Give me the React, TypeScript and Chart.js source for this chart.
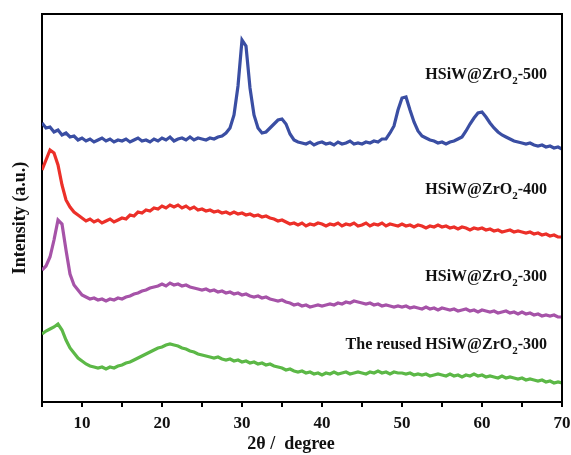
import React, { useEffect, useRef } from "react";
import { Chart, registerables } from "chart.js";

Chart.register(...registerables);

const angles = [
  5, 5.5, 6, 6.5, 7, 7.5, 8, 8.5, 9, 9.5,
  10, 10.5, 11, 11.5, 12, 12.5, 13, 13.5, 14, 14.5,
  15, 15.5, 16, 16.5, 17, 17.5, 18, 18.5, 19, 19.5,
  20, 20.5, 21, 21.5, 22, 22.5, 23, 23.5, 24, 24.5,
  25, 25.5, 26, 26.5, 27, 27.5, 28, 28.5, 29, 29.5,
  30, 30.5, 31, 31.5, 32, 32.5, 33, 33.5, 34, 34.5,
  35, 35.5, 36, 36.5, 37, 37.5, 38, 38.5, 39, 39.5,
  40, 40.5, 41, 41.5, 42, 42.5, 43, 43.5, 44, 44.5,
  45, 45.5, 46, 46.5, 47, 47.5, 48, 48.5, 49, 49.5,
  50, 50.5, 51, 51.5, 52, 52.5, 53, 53.5, 54, 54.5,
  55, 55.5, 56, 56.5, 57, 57.5, 58, 58.5, 59, 59.5,
  60, 60.5, 61, 61.5, 62, 62.5, 63, 63.5, 64, 64.5,
  65, 65.5, 66, 66.5, 67, 67.5, 68, 68.5, 69, 69.5,
  70,
];

const zr500 = [
  279, 274, 275, 270, 272, 267, 269, 265, 266, 262,
  264, 261, 263, 260, 262, 264, 261, 263, 260, 262,
  261, 263, 260, 262, 264, 261, 262, 260, 263, 261,
  264, 262, 265, 261, 263, 264, 262, 265, 262, 264,
  263, 262, 264, 263, 265, 266, 269, 274, 287, 316,
  362, 356, 314, 287, 274, 269, 270, 274, 278, 282,
  283, 278, 268, 262, 260, 259, 258, 260, 257, 259,
  260, 258, 259, 257, 260, 258, 259, 261, 258, 259,
  258, 260, 259, 261, 260, 263, 263, 269, 276, 292,
  304, 305, 292, 280, 271, 266, 264, 262, 261, 259,
  260, 258, 260, 261, 263, 265, 271, 278, 284, 289,
  290, 285, 279, 274, 270, 267, 265, 263, 261, 260,
  259, 258, 259, 257, 256, 257, 255, 256, 254, 255,
  253,
];

const zr400 = [
  232, 242, 252, 249, 237, 217, 202, 195, 190, 187,
  184, 181, 183, 180, 182, 179, 181, 183, 180, 182,
  184, 183, 187, 186, 190, 189, 192, 191, 194, 193,
  196, 194, 197, 195, 197, 194, 196, 193, 195, 192,
  193, 191, 192, 190, 191, 189, 190, 188, 190, 188,
  189, 187, 188, 186, 187, 185, 186, 184, 183, 181,
  182, 180, 178, 179, 177, 179, 176, 178, 177, 179,
  178, 176, 178, 177, 179, 176, 178, 177, 179, 176,
  177, 179, 176, 178, 177, 179, 176, 178, 177, 176,
  178, 176, 177, 175, 177, 176, 174, 176, 175, 177,
  175, 176, 174, 175, 173, 175, 174, 172, 174, 173,
  174, 172, 173, 171, 172, 170, 171, 172, 170, 171,
  170, 169, 170, 168, 169, 167, 168, 166, 167, 165,
  165,
];

const zr300 = [
  132, 136, 145, 162, 182, 178, 152, 128, 117, 112,
  107, 105, 103, 104, 102, 103, 101, 103, 102, 104,
  103, 105, 106, 108, 109, 111, 112, 114, 115, 116,
  118, 116, 119, 117, 118, 116, 117, 115, 114, 113,
  112, 113, 111, 112, 110, 111, 109, 110, 108, 109,
  107, 108, 106, 105, 106, 104, 105, 103, 102, 101,
  102, 100, 99, 97, 98, 96, 97, 95, 96, 97,
  96, 97, 98, 97, 99, 98, 100, 99, 101, 100,
  99, 98, 99, 97, 98, 96, 97, 96, 95, 96,
  95, 96, 94, 95, 94, 93, 95, 93, 94, 92,
  94, 93, 92, 93, 91, 92, 93, 91, 92, 90,
  92, 91, 90, 91, 89, 90, 91, 89, 90, 88,
  90, 88, 89, 87, 88, 86, 87, 86, 87, 85,
  85,
];

const reused300 = [
  68, 71, 73, 75, 78, 72, 62, 54, 49, 44,
  41, 38, 36, 35, 34, 35, 33, 35, 34, 36,
  37, 39, 40, 42, 44, 46, 48, 50, 52, 54,
  55, 57, 58, 57, 56, 54, 53, 51, 50, 48,
  47, 46, 45, 44, 45, 43, 42, 43, 41, 42,
  40, 41, 39, 40, 38, 39, 37, 38, 36, 35,
  34, 32, 33, 31, 30, 31, 29, 30, 28, 29,
  27, 29, 28, 30, 28, 29, 30, 28, 29, 30,
  29, 28, 30, 29, 31, 29, 30, 28, 30, 29,
  29, 28, 29, 27, 28, 27, 28, 26, 27, 28,
  27, 26, 28, 26, 27, 25, 27, 26, 28, 26,
  27, 25, 26, 25, 24, 26, 24, 25, 24, 23,
  24, 22, 23, 22, 21, 22, 20, 21, 19, 20,
  19,
];

const xTicks = [10, 20, 30, 40, 50, 60, 70];
const seriesNames = [
  ["HSiW@ZrO", "2", "-500"],
  ["HSiW@ZrO", "2", "-400"],
  ["HSiW@ZrO", "2", "-300"],
  ["The reused HSiW@ZrO", "2", "-300"],
];
const colors = ["#3a4ea3", "#ec3029", "#a653a8", "#5cb847"];

const FONT = '"Liberation Serif", "Times New Roman", serif';

const labelPlugin = {
  id: "labels",
  afterDraw(chart: any) {
    const ctx = chart.ctx;
    const ca = chart.chartArea;
    ctx.save();
    ctx.strokeStyle = "#000";
    ctx.lineWidth = 2;
    ctx.beginPath();
    ctx.moveTo(ca.left - 1, ca.top);
    ctx.lineTo(ca.right, ca.top);
    ctx.lineTo(ca.right, ca.bottom);
    ctx.stroke();

    const labelY = [61, 176, 263, 331];
    const rightX = ca.right - 15;
    ctx.fillStyle = "#111";
    ctx.textBaseline = "middle";
    seriesNames.forEach((parts, i) => {
      const big = `bold 16px ${FONT}`;
      const small = `bold 11px ${FONT}`;
      ctx.font = big;
      const w0 = ctx.measureText(parts[0]).width;
      const w2 = ctx.measureText(parts[2]).width;
      ctx.font = small;
      const w1 = ctx.measureText(parts[1]).width;
      let x = rightX - (w0 + w1 + w2);
      const y = ca.top + labelY[i];
      ctx.textAlign = "left";
      ctx.font = big;
      ctx.fillText(parts[0], x, y);
      x += w0;
      ctx.font = small;
      ctx.fillText(parts[1], x, y + 6);
      x += w1;
      ctx.font = big;
      ctx.fillText(parts[2], x, y);
    });

    ctx.fillStyle = "#111";
    ctx.font = `bold 18px ${FONT}`;
    ctx.textAlign = "center";
    ctx.textBaseline = "middle";
    ctx.fillText("2θ /  degree", 291, 444);
    ctx.translate(20, 218);
    ctx.rotate(-Math.PI / 2);
    ctx.fillText("Intensity (a.u.)", 0, 0);
    ctx.restore();
  },
};

export default function App() {
  const ref = useRef<HTMLCanvasElement>(null);
  useEffect(() => {
    if (!ref.current) return;
    const sets = [zr500, zr400, zr300, reused300];
    const chart = new Chart(ref.current, {
      type: "line",
      data: {
        datasets: sets.map((vals, i) => ({
          label: seriesNames[i].join(""),
          data: angles.map((a, j) => ({ x: a, y: vals[j] })),
          borderColor: colors[i],
          borderWidth: 3.2,
          pointRadius: 0,
          tension: 0,
          fill: false,
        })),
      },
      options: {
        animation: false,
        responsive: true,
        maintainAspectRatio: false,
        layout: { padding: { top: 14, right: 9, left: 0, bottom: 0 } },
        plugins: { legend: { display: false }, tooltip: { enabled: false } },
        scales: {
          x: {
            type: "linear",
            min: 5,
            max: 70,
            afterBuildTicks: (s: any) => {
              const t: any[] = [];
              for (const v of xTicks) {
                t.push({ value: v - 5 });
                t.push({ value: v });
              }
              s.ticks = t;
            },
            afterFit: (s: any) => {
              s.height = 53;
              s.paddingRight = 0;
              s.paddingLeft = 0;
            },
            ticks: {
              callback: (v: any) => (xTicks.includes(Number(v)) ? String(v) : ""),
              color: "#111",
              font: { family: FONT, size: 17, weight: "bold" },
              padding: 6,
              maxRotation: 0,
              autoSkip: false,
            },
            grid: {
              drawOnChartArea: false,
              drawTicks: true,
              tickLength: 5,
              color: "#000",
              lineWidth: 2,
            },
            border: { color: "#000", width: 2 },
          },
          y: {
            min: 0,
            max: 388,
            afterFit: (s: any) => {
              s.width = 42;
              s.paddingTop = 0;
              s.paddingBottom = 0;
            },
            ticks: { display: false },
            grid: { drawOnChartArea: false, drawTicks: false },
            border: { color: "#000", width: 2 },
          },
        },
      },
      plugins: [labelPlugin],
    });
    return () => chart.destroy();
  }, []);
  return (
    <div style={{ position: "absolute", left: 0, top: 0, width: 571, height: 455, background: "#fff" }}>
      <canvas ref={ref} />
    </div>
  );
}
